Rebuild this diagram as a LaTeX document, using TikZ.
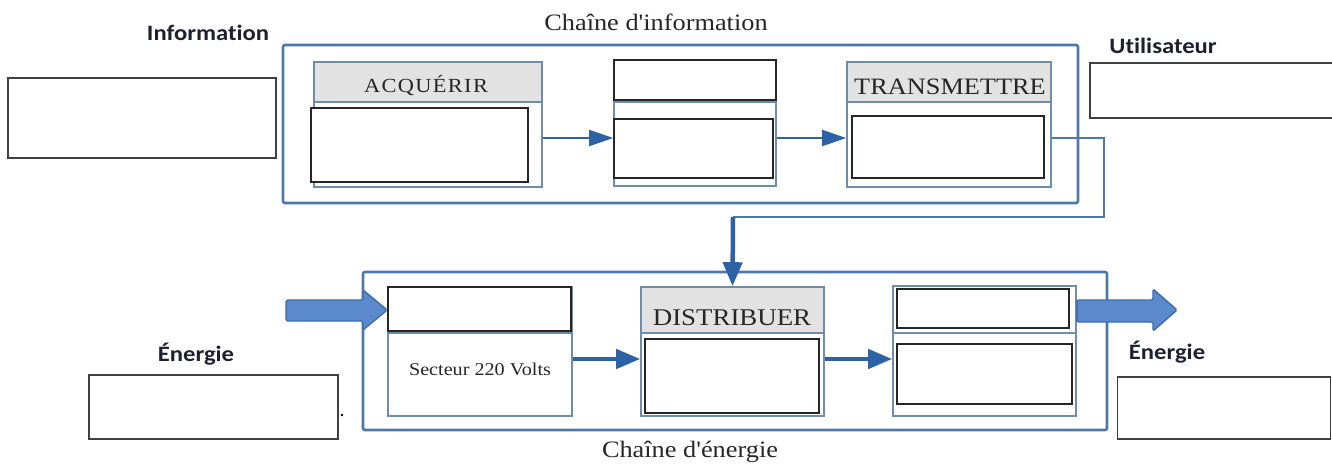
\documentclass[tikz,border=0pt]{standalone}
\usepackage{fontspec}
\setmainfont{Liberation Serif}
\newfontfamily\labfont{Carlito}[Ligatures=NoCommon]
\usetikzlibrary{arrows.meta,calc}
\definecolor{frameblue}{HTML}{4F78AA}
\definecolor{arrowblue}{HTML}{2E62A6}
\definecolor{blockedge}{HTML}{6F8CA8}
\definecolor{hdrgray}{HTML}{E2E2E2}
\definecolor{bigfill}{HTML}{5A8ACB}
\definecolor{bigedge}{HTML}{3E6DA8}
\definecolor{labcol}{HTML}{1F1F2F}
\newcommand\widetext[1]{\scalebox{1.12}[1]{#1}}
\tikzset{
  frame/.style={draw=frameblue, line width=2.6pt, rounded corners=2pt, inner sep=0pt},
  blockbox/.style={draw=blockedge, line width=1.6pt, fill=white, inner sep=0pt},
  hdr/.style={draw=blockedge, line width=1.6pt, fill=hdrgray, inner sep=0pt},
  wbox/.style={draw=black!85, line width=1.2pt, fill=white, inner sep=0pt},
  blank/.style={draw=black!75, line width=1.3pt, fill=white, inner sep=0pt},
  lab/.style={text=labcol, font=\labfont\bfseries\fontsize{22}{26}\selectfont, inner sep=0pt},
  ttl/.style={text=black!85, font=\fontsize{23.5}{27}\selectfont, inner sep=0pt},
  flow/.style={draw=arrowblue, line width=2pt, -{Triangle[length=24pt,width=16pt]}},
  bigflow/.style={draw=arrowblue, line width=4.5pt, -{Triangle[length=24pt,width=19pt]}},
  thin/.style={draw=frameblue, line width=1.6pt},
  bigarrow/.style={fill=bigfill, draw=bigedge, line width=1.4pt, rounded corners=1.5pt},
}
\begin{document}
\begin{tikzpicture}[x=1pt,y=-1pt]
\useasboundingbox (0,0) rectangle (1332,466);

% ---------- Information chain ----------
\node[frame, minimum width=795, minimum height=158] (ichain) at (680.5,124) {};
\node[ttl] (ititle) at (656,22) {\widetext{Chaîne d\textquotesingle information}};

\node[lab] (infolab) at (208,33) {\widetext{Information}};
\node[blank, minimum width=268, minimum height=80] (infobox) at (142,118) {};

\node[lab] (userlab) at (1163,46) {\widetext{Utilisateur}};
\node[blank, minimum width=244, minimum height=55] (userbox) at (1212,90.5) {};

% ACQUERIR
\node[blockbox, minimum width=228, minimum height=125] (acq) at (428,124.5) {};
\node[hdr, minimum width=228, minimum height=40] (acqh) at (428,82) {};
\node[text=black!85, font=\fontsize{20}{24}\selectfont\addfontfeatures{LetterSpace=6}, inner sep=0pt] (acqt) at (426,86) {\widetext{ACQUÉRIR}};
\node[wbox, minimum width=217, minimum height=74] (acqi) at (419.5,145) {};

% block 2
\node[blockbox, minimum width=162, minimum height=126] (b2) at (695,123) {};
\node[wbox, minimum width=162, minimum height=40] (b2t) at (695,80) {};
\draw[draw=blockedge, line width=1.6pt] (b2.west |- 0,102) -- (b2.east |- 0,102);
\node[wbox, minimum width=159, minimum height=59] (b2i) at (693.5,148.5) {};

% TRANSMETTRE
\node[blockbox, minimum width=204, minimum height=125] (tr) at (949,124.5) {};
\node[hdr, minimum width=204, minimum height=40] (trh) at (949,82) {};
\node[text=black!85, font=\fontsize{23.5}{27}\selectfont, inner sep=0pt] (trt) at (950,87) {\widetext{TRANSMETTRE}};
\node[wbox, minimum width=192, minimum height=62] (tri) at (948,147) {};

\draw[flow] (acq.east |- 0,138) -- (b2.west |- 0,138);
\draw[flow] (b2.east |- 0,138) -- (tr.west |- 0,138);

% ---------- Energy chain ----------
\node[frame, minimum width=744, minimum height=158] (echain) at (735,351) {};
\node[ttl] (etitle) at (690,452) {\widetext{Chaîne d\textquotesingle énergie}};

% ALIMENTER block
\node[blockbox, minimum width=184, minimum height=129] (alim) at (480,351.5) {};
\node[wbox, minimum width=183, minimum height=44] (alimt) at (479.5,309) {};
\draw[draw=blockedge, line width=1.6pt] (alim.west |- 0,333) -- (alim.east |- 0,333);
\node[text=black!85, font=\fontsize{18}{21}\selectfont, inner sep=0pt] (sect) at (480,369) {\widetext{Secteur 220 Volts}};

% DISTRIBUER
\node[blockbox, minimum width=183, minimum height=129] (dist) at (732.5,351.5) {};
\node[hdr, minimum width=183, minimum height=46] (disth) at (732.5,310) {};
\node[text=black!85, font=\fontsize{24}{28}\selectfont, inner sep=0pt] (distt) at (732,318) {\widetext{DISTRIBUER}};
\node[wbox, minimum width=174, minimum height=74] (disti) at (732,376) {};

% block 3
\node[blockbox, minimum width=183, minimum height=130] (b3) at (984.5,351) {};
\node[wbox, minimum width=172, minimum height=39] (b3t) at (983,308.5) {};
\draw[draw=blockedge, line width=1.6pt] (b3.west |- 0,333) -- (b3.east |- 0,333);
\node[wbox, minimum width=175, minimum height=60] (b3i) at (984.5,374) {};

\draw[bigflow] (alim.east |- 0,359) -- (dist.west |- 0,359);
\draw[bigflow] (dist.east |- 0,359) -- (b3.west |- 0,359);

% order link from TRANSMETTRE to DISTRIBUER
\coordinate (turn) at (733,217);
\draw[thin] (tr.east |- 0,138) -- (1104,138) -- (1104,217) -- (turn);
\draw[bigflow] (turn) -- (dist.north);

% energy block arrows
\draw[bigarrow] (286,300) -- (363,300) -- (363,290) -- (alim.west |- 0,310) -- (363,330) -- (363,321) -- (286,321) -- cycle;
\draw[bigarrow] (b3.east |- 0,300) -- (1153,300) -- (1153,289) -- (1177,310) -- (1153,331) -- (1153,322) -- (b3.east |- 0,322) -- cycle;

% energy labels
\node[lab] (elab1) at (196,354) {\widetext{Énergie}};
\node[blank, minimum width=249, minimum height=64] (ebox1) at (213.5,407) {};
\fill[black] (342,415) circle (1.4);
\node[lab] (elab2) at (1167,352) {\widetext{Énergie}};
\node[blank, minimum width=213, minimum height=62] (ebox2) at (1224,408) {};
\end{tikzpicture}
\end{document}
